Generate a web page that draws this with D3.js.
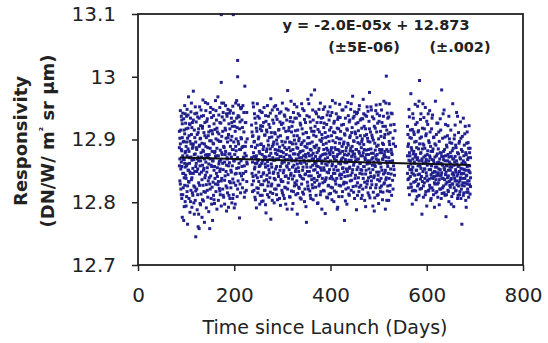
<!DOCTYPE html>
<html>
<head>
<meta charset="utf-8">
<script src="https://cdn.jsdelivr.net/npm/d3@7"></script>
<style>
  html, body { margin: 0; padding: 0; background: #fff; }
  svg { display: block; }
</style>
</head>
<body>
<svg id="chart" width="548" height="343"></svg>
<script>
// Responsivity samples [day since launch, DN/W/m² sr µm], one array per observation period
const passA = [
  [86,12.858],[86,12.913],[87,12.834],[88,12.893],[88,12.946],[89,12.821],
  [90,12.884],[90,12.812],[91,12.931],[91,12.857],[92,12.776],[92,12.903],[93,12.846],[93,12.942],[94,12.868],[94,12.823],
  [95,12.771],[95,12.897],[96,12.915],[96,12.839],[97,12.862],[97,12.954],[98,12.801],[98,12.879],[99,12.926],[99,12.843],
  [100,12.889],[100,12.794],[101,12.858],[101,12.937],[102,12.817],[102,12.874],[103,12.902],[103,12.765],[104,12.851],[104,12.918],
  [105,12.833],[105,12.968],[106,12.881],[106,12.806],[107,12.925],[107,12.862],[108,12.784],[108,12.897],[109,12.846],[109,12.934],
  [110,12.872],[110,12.819],[111,12.908],[111,12.958],[112,12.839],[112,12.792],[113,12.886],[113,12.927],[114,12.854],[114,12.811],
  [115,12.977],[115,12.893],[116,12.826],[116,12.868],[117,12.915],[117,12.781],[118,12.849],[118,12.941],[119,12.877],[119,12.803],
  [120,12.745],[120,12.896],[121,12.862],[121,12.928],[122,12.821],[122,12.884],[123,12.908],[123,12.788],[124,12.853],[124,12.936],
  [125,12.761],[125,12.872],[126,12.831],[126,12.917],[127,12.889],[127,12.758],[128,12.952],[128,12.845],[129,12.798],[129,12.901],
  [130,12.866],[130,12.922],[131,12.813],[131,12.879],[132,12.937],[132,12.848],[133,12.776],[133,12.894],[134,12.859],[134,12.918],
  [135,12.827],[135,12.963],[136,12.881],[136,12.802],[137,12.911],[137,12.854],[138,12.768],[138,12.893],[139,12.839],[139,12.927],
  [140,12.875],[140,12.816],[141,12.946],[141,12.864],[142,12.791],[142,12.903],[143,12.848],[143,12.929],[144,12.872],[144,12.819],
  [145,12.887],[145,12.957],[146,12.834],[146,12.906],[147,12.861],[147,12.785],[148,12.921],[148,12.876],[149,12.829],[149,12.758],
  [150,12.943],[150,12.869],[151,12.914],[151,12.842],[152,12.898],[152,12.806],[153,12.935],[153,12.857],[154,12.824],[154,12.881],
  [155,12.909],[155,12.771],[156,12.866],[156,12.948],[157,12.811],[157,12.893],[158,12.851],[158,12.925],[159,12.879],[159,12.798],
  [160,12.916],[160,12.838],[161,12.962],[161,12.873],[162,12.817],[162,12.901],[163,12.846],[163,12.931],[164,12.789],[164,12.886],
  [165,12.855],[165,12.912],[166,12.828],[166,12.968],[167,12.874],[167,12.803],[168,12.939],[168,12.861],[169,12.897],[169,12.822],
  [170,12.951],[170,12.849],[171,12.883],[171,12.812],[172,12.926],[172,12.867],[173,12.991],[173,13.099],[173,12.794],[174,12.905],
  [174,12.838],[174,12.958],[175,12.876],[176,12.821],[176,12.913],[177,12.852],[177,12.943],[178,12.808],[178,12.889],[179,12.931],
  [180,12.864],[180,12.797],[181,12.918],[181,12.842],[182,12.954],[182,12.881],[183,12.826],[183,12.902],[184,12.859],[184,12.786],
  [185,12.937],[185,12.871],[186,12.815],[186,12.896],[187,12.948],[187,12.844],[188,12.908],[188,12.792],[189,12.877],[189,12.925],
  [190,12.833],[190,12.863],[191,12.917],[191,12.806],[192,12.889],[192,12.946],[193,12.851],[193,12.823],[194,12.934],[194,12.872],
  [195,12.799],[195,12.905],[196,12.858],[196,12.921],[197,12.837],[197,12.953],[198,13.099],[198,12.884],[198,12.812],[199,12.896],
  [199,12.866],[200,12.929],[200,12.791],[201,12.876],[202,12.913],[202,12.845],[203,12.958],[203,12.827],[204,12.882],[204,12.901],
  [205,12.962],[205,12.854],[206,12.919],[206,12.809],[207,13.026],[207,13.000],[207,12.871],[208,12.938],[208,12.834],[209,12.893],
  [209,12.955],[210,12.862],[211,12.775],[211,12.917],[212,12.846],[212,12.928],[213,12.884],[213,12.815],[214,12.949],[214,12.866],
  [215,12.951],[215,12.901],[216,12.857],[216,12.931],[217,12.823],[218,12.889],[218,12.954],[219,12.846],[220,12.912],[220,12.872],
  [221,12.808],[222,12.985],[222,12.878],[223,12.927],[224,12.849],[224,12.896],[225,12.819],[226,12.943],[226,12.864],[227,12.901],
  [86,12.887],[87,12.902],[87,12.869],[88,12.829],[89,12.915],[89,12.853],[90,12.937],[90,12.864],[91,12.806],[91,12.882],
  [92,12.925],[93,12.874],[93,12.812],[94,12.896],[95,12.846],[95,12.933],[96,12.868],[96,12.793],[97,12.909],[97,12.827],
  [98,12.941],[98,12.856],[99,12.881],[100,12.917],[100,12.838],[101,12.896],[101,12.809],[102,12.948],[102,12.861],[103,12.826],
  [104,12.885],[104,12.939],[105,12.851],[106,12.906],[106,12.832],[107,12.871],[108,12.924],[108,12.848],[109,12.801],[110,12.893],
  [110,12.944],[111,12.836],[112,12.867],[112,12.919],[113,12.815],[114,12.889],[115,12.846],[115,12.931],[116,12.799],[117,12.876],
  [118,12.903],[118,12.824],[119,12.952],[120,12.857],[120,12.818],[121,12.887],[122,12.942],[122,12.849],[123,12.869],[124,12.812],
  [125,12.911],[126,12.866],[126,12.781],[127,12.934],[128,12.891],[128,12.827],[129,12.858],[130,12.902],[130,12.796],[131,12.947],
  [132,12.872],[133,12.836],[134,12.921],[134,12.804],[135,12.883],[136,12.851],[136,12.938],[137,12.817],[138,12.869],[139,12.906],
  [140,12.843],[140,12.959],[141,12.889],[142,12.828],[143,12.876],[144,12.933],[144,12.855],[145,12.808],[146,12.871],[147,12.912],
  [148,12.839],[149,12.898],[150,12.821],[150,12.886],[151,12.951],[152,12.859],[153,12.797],[154,12.914],[155,12.866],[156,12.832],
  [156,12.894],[157,12.938],[158,12.804],[159,12.857],[160,12.881],[161,12.829],[162,12.946],[163,12.874],[164,12.918],[165,12.841],
  [166,12.899],[167,12.833],[168,12.909],[169,12.865],[170,12.818],[170,12.927],[171,12.853],[172,12.897],[173,12.834],[174,12.879],
  [175,12.936],[176,12.862],[177,12.811],[178,12.958],[179,12.887],[180,12.835],[181,12.876],[182,12.915],[183,12.849],[184,12.941],
  [185,12.823],[186,12.869],[187,12.903],[188,12.858],[189,12.811],[190,12.942],[191,12.877],[192,12.831],[193,12.899],[194,12.848],
  [195,12.927],[196,12.884],[197,12.806],[198,12.942],[199,12.831],[200,12.866],[201,12.921],[202,12.797],[203,12.889],[204,12.846],
  [205,12.934],[206,12.869],[207,12.821],[208,12.897],[209,12.855],[210,12.936],[211,12.884],[212,12.829],[213,12.951],[214,12.903],
  [215,12.842],[216,12.887],[217,12.919],[218,12.836],[219,12.871],[220,12.943],[221,12.858],[222,12.816],[223,12.889],[224,12.927],
  [225,12.874],[226,12.833],[227,12.861]
];

const passB = [
  [236,12.871],[236,12.923],[237,12.846],[238,12.905],[238,12.817],[239,12.958],[240,12.879],[240,12.834],[241,12.896],[242,12.853],
  [242,12.941],[243,12.808],[244,12.887],[244,12.862],[245,12.926],[246,12.791],[246,12.874],[247,12.913],[248,12.839],[248,12.957],
  [249,12.866],[250,12.822],[250,12.901],[251,12.848],[252,12.934],[252,12.881],[253,12.797],[254,12.859],[254,12.917],[255,12.828],
  [256,12.893],[256,12.944],[257,12.862],[258,12.811],[258,12.876],[259,12.921],[260,12.845],[260,12.802],[261,12.889],[262,12.951],
  [262,12.834],[263,12.868],[264,12.907],[264,12.819],[265,12.856],[266,12.929],[266,12.783],[267,12.881],[268,12.843],[268,12.912],
  [269,12.865],[270,12.826],[270,12.898],[271,12.937],[272,12.852],[272,12.808],[273,12.874],[274,12.919],[274,12.839],[275,12.885],
  [276,12.965],[276,12.773],[277,12.861],[278,12.904],[278,12.829],[279,12.947],[280,12.871],[280,12.814],[281,12.892],[282,12.848],
  [282,12.926],[283,12.799],[284,12.867],[284,12.911],[285,12.836],[286,12.954],[286,12.878],[287,12.821],[288,12.899],[288,12.857],
  [289,12.932],[290,12.804],[290,12.883],[291,12.846],[292,12.915],[292,12.869],[293,12.827],[294,12.942],[294,12.888],[295,12.851],
  [296,12.795],[296,12.906],[297,12.873],[298,12.833],[298,12.924],[299,12.862],[300,12.958],[300,12.815],[301,12.891],[302,12.847],
  [302,12.879],[303,12.918],[304,12.806],[304,12.864],[305,12.937],[306,12.841],[306,12.896],[307,12.823],[308,12.876],[308,12.949],
  [309,12.858],[310,12.902],[310,12.789],[311,12.978],[312,12.868],[312,12.831],[313,12.914],[314,12.852],[314,12.887],[315,12.809],
  [316,12.929],[316,12.872],[317,12.843],[318,12.961],[318,12.895],[319,12.818],[320,12.866],[320,12.921],[321,12.837],[322,12.884],
  [322,12.798],[323,12.943],[324,12.859],[324,12.906],[325,12.826],[326,12.877],[326,12.934],[327,12.849],[328,12.812],[328,12.893],
  [329,12.869],[330,12.952],[330,12.834],[331,12.781],[332,12.886],[332,12.915],[333,12.855],[334,12.824],[334,12.898],[335,12.871],
  [336,12.938],[336,12.843],[337,12.807],[338,12.881],[338,12.923],[339,12.862],[340,12.829],[340,12.957],[341,12.895],[342,12.851],
  [342,12.816],[343,12.909],[344,12.874],[344,12.837],[345,12.946],[346,12.864],[346,12.801],[347,12.889],[348,12.927],[348,12.845],
  [349,12.872],[350,12.768],[350,12.911],[351,12.856],[352,12.832],[352,12.893],[353,12.964],[354,12.878],[354,12.821],[355,12.903],
  [356,12.849],[356,12.936],[357,12.866],[358,12.811],[358,12.884],[359,12.918],[360,12.842],[360,12.971],[361,12.875],[362,12.828],
  [362,12.896],[363,12.859],[364,12.931],[364,12.804],[365,12.869],[366,12.913],[366,12.838],[367,12.979],[368,12.887],[368,12.852],
  [369,12.824],[370,12.905],[370,12.863],[371,12.941],[372,12.835],[372,12.879],[373,12.798],[374,12.916],[374,12.857],[375,12.882],
  [376,12.948],[376,12.826],[377,12.868],[378,12.899],[378,12.843],[379,12.812],[380,12.927],[380,12.874],[381,12.851],[382,12.908],
  [382,12.789],[383,12.866],[384,12.935],[384,12.831],[385,12.892],[386,12.855],[386,12.919],[387,12.818],[388,12.877],[388,12.952],
  [389,12.782],[390,12.861],[390,12.903],[391,12.839],[392,12.886],[392,12.924],[393,12.848],[394,12.807],[394,12.871],[395,12.944],
  [396,12.864],[396,12.827],[397,12.897],[398,12.852],[398,12.915],[399,12.876],[400,12.814],[400,12.938],[401,12.883],[402,12.841],
  [402,12.906],[403,12.858],[404,12.962],[404,12.823],[405,12.879],[406,12.912],[406,12.846],[407,12.801],[408,12.869],[408,12.929],
  [409,12.887],[410,12.834],[410,12.895],[411,12.857],[412,12.941],[412,12.816],[413,12.873],[414,12.918],[414,12.851],[415,12.792],
  [416,12.884],[416,12.936],[417,12.862],[418,12.827],[418,12.901],[419,12.956],[420,12.845],[420,12.878],[421,12.913],[422,12.838],
  [422,12.866],[423,12.923],[424,12.809],[424,12.889],[425,12.854],[426,12.947],[426,12.871],[427,12.829],[428,12.896],[428,12.848],
  [429,12.771],[430,12.907],[430,12.863],[431,12.934],[432,12.821],[432,12.882],[433,12.853],[434,12.917],[434,12.797],[435,12.875],
  [436,12.959],[436,12.842],[437,12.891],[438,12.867],[438,12.813],[439,12.928],[440,12.856],[440,12.903],[441,12.834],[442,12.886],
  [442,12.948],[443,12.819],[444,12.873],[444,12.911],[445,12.847],[446,12.969],[446,12.881],[447,12.825],[448,12.898],[448,12.859],
  [449,12.937],[450,12.806],[450,12.877],[451,12.912],[452,12.843],[452,12.866],[453,12.925],[454,12.788],[454,12.884],[455,12.852],
  [456,12.943],[456,12.831],[457,12.895],[458,12.869],[458,12.914],[459,12.817],[460,12.878],[460,12.954],[461,12.846],[462,12.906],
  [462,12.862],[463,12.827],[464,12.933],[464,12.887],[465,12.851],[466,12.811],[466,12.901],[467,12.874],[468,12.964],[468,12.838],
  [469,12.892],[470,12.857],[470,12.921],[471,12.803],[472,12.871],[472,12.939],[473,12.845],[474,12.883],[474,12.824],[475,12.908],
  [476,12.861],[476,12.952],[477,12.834],[478,12.897],[478,12.815],[479,12.876],[480,12.929],[480,12.853],[481,12.975],[482,12.866],
  [482,12.807],[483,12.912],[484,12.841],[484,12.885],[485,12.947],[486,12.828],[486,12.869],[487,12.903],[488,12.852],[488,12.794],
  [489,12.878],[490,12.933],[490,12.839],[491,12.786],[492,12.894],[492,12.859],[493,12.918],[494,12.823],[494,12.874],[495,12.955],
  [496,12.848],[496,12.889],[497,12.811],[498,12.867],[498,12.926],[499,12.843],[500,12.901],[500,12.798],[501,12.862],[502,12.938],
  [502,12.834],[503,12.879],[504,12.817],[504,12.913],[505,12.856],[506,12.947],[506,12.826],[507,12.884],[508,12.804],[508,12.869],
  [509,12.921],[510,12.845],[510,12.892],[511,12.961],[512,12.831],[512,12.876],[513,12.908],[514,12.851],[514,12.789],[515,12.872],
  [516,13.001],[516,12.839],[517,12.915],[518,12.862],[518,12.818],[519,12.934],[520,12.881],[520,12.846],[521,12.803],[522,12.897],
  [522,12.957],[523,12.865],[524,12.827],[524,12.911],[525,12.853],[526,12.884],[526,12.942],[527,12.811],[528,12.876],[529,12.835],
  [530,12.902],[531,12.858],[532,12.924],[533,12.843],[535,12.889],
  [236,12.889],[237,12.912],[237,12.828],[238,12.864],[239,12.841],[239,12.906],[240,12.952],[241,12.819],[241,12.873],[242,12.897],
  [243,12.856],[243,12.934],[244,12.804],[245,12.871],[245,12.843],[246,12.918],[247,12.862],[247,12.823],[248,12.891],[249,12.937],
  [249,12.815],[250,12.868],[251,12.904],[251,12.833],[252,12.857],[253,12.946],[253,12.878],[254,12.811],[255,12.892],[255,12.922],
  [256,12.841],[257,12.801],[257,12.914],[258,12.943],[259,12.866],[259,12.828],[260,12.884],[261,12.927],[261,12.847],[262,12.873],
  [263,12.819],[263,12.907],[264,12.861],[265,12.938],[265,12.796],[266,12.872],[267,12.836],[267,12.915],[268,12.885],[269,12.954],
  [269,12.812],[270,12.858],[271,12.891],[271,12.832],[272,12.924],[273,12.847],[273,12.903],[274,12.868],[275,12.816],[275,12.942],
  [276,12.878],[277,12.826],[277,12.911],[278,12.856],[279,12.889],[279,12.803],[280,12.931],[281,12.846],[281,12.867],[282,12.896],
  [283,12.838],[283,12.952],[284,12.821],[285,12.884],[285,12.909],[286,12.853],[287,12.937],[287,12.869],[288,12.812],[289,12.876],
  [289,12.893],[290,12.948],[291,12.827],[291,12.904],[292,12.841],[293,12.882],[293,12.916],[294,12.806],[295,12.873],[295,12.928],
  [296,12.857],[297,12.836],[297,12.944],[298,12.881],[299,12.819],[299,12.897],[300,12.864],[301,12.833],[301,12.926],[302,12.811],
  [303,12.872],[303,12.851],[304,12.939],[305,12.887],[305,12.824],[306,12.868],[307,12.913],[307,12.797],[308,12.842],[309,12.931],
  [309,12.884],[310,12.856],[311,12.821],[311,12.903],[312,12.947],[313,12.862],[313,12.838],[314,12.919],[315,12.874],[315,12.896],
  [316,12.808],[317,12.882],[317,12.935],[318,12.846],[319,12.869],[319,12.912],[320,12.789],[321,12.893],[321,12.856],[322,12.928],
  [323,12.817],[323,12.877],[324,12.842],[325,12.956],[325,12.899],[326,12.831],[327,12.866],[327,12.914],[328,12.853],[329,12.828],
  [329,12.934],[330,12.887],[331,12.861],[331,12.906],[332,12.814],[333,12.876],[333,12.941],[334,12.849],[335,12.902],[335,12.822],
  [336,12.879],[337,12.863],[337,12.926],[338,12.841],[339,12.892],[339,12.805],[340,12.871],[341,12.917],[341,12.838],[342,12.949],
  [343,12.856],[343,12.882],[344,12.813],[345,12.898],[345,12.867],[346,12.932],[347,12.844],[347,12.821],[348,12.876],[349,12.911],
  [349,12.793],[350,12.861],[351,12.938],[351,12.887],[352,12.849],[353,12.826],[353,12.903],[354,12.866],[355,12.842],[355,12.957],
  [356,12.874],[357,12.818],[357,12.894],[358,12.928],[359,12.856],[359,12.806],[360,12.883],[361,12.913],[361,12.836],[362,12.869],
  [363,12.947],[363,12.823],[364,12.878],[365,12.851],[365,12.907],[366,12.889],[367,12.832],[367,12.862],[368,12.921],[369,12.873],
  [369,12.944],[370,12.811],[371,12.858],[371,12.891],[372,12.927],[373,12.847],[373,12.868],[374,12.799],[375,12.936],[375,12.841],
  [376,12.886],[377,12.829],[377,12.912],[378,12.871],[379,12.855],[379,12.958],[380,12.817],[381,12.897],[381,12.934],[382,12.862],
  [383,12.838],[383,12.902],[384,12.876],[385,12.819],[385,12.948],[386,12.884],[387,12.851],[387,12.926],[388,12.833],[389,12.869],
  [389,12.911],[390,12.836],[391,12.894],[391,12.877],[392,12.808],[393,12.939],[393,12.859],[394,12.883],[395,12.826],[395,12.905],
  [396,12.847],[397,12.931],[397,12.813],[398,12.879],[399,12.952],[399,12.838],[400,12.866],[401,12.919],[401,12.824],[402,12.887],
  [403,12.804],[403,12.943],[404,12.861],[405,12.837],[405,12.898],[406,12.873],[407,12.926],[407,12.852],[408,12.818],[409,12.911],
  [409,12.846],[410,12.958],[411,12.829],[411,12.884],[412,12.867],[413,12.903],[413,12.838],[414,12.789],[415,12.876],[415,12.932],
  [416,12.851],[417,12.917],[417,12.809],[418,12.882],[419,12.843],[419,12.894],[420,12.935],[421,12.861],[421,12.826],[422,12.901],
  [423,12.869],[423,12.844],[424,12.947],[425,12.881],[425,12.817],[426,12.855],[427,12.924],[427,12.893],[428,12.832],[429,12.876],
  [429,12.909],[430,12.841],[431,12.868],[431,12.802],[432,12.952],[433,12.887],[433,12.831],[434,12.863],[435,12.915],[435,12.849],
  [436,12.894],[437,12.823],[437,12.938],[438,12.877],[439,12.854],[439,12.811],[440,12.931],[441,12.882],[441,12.906],[442,12.843],
  [443,12.867],[443,12.957],[444,12.835],[445,12.889],[445,12.919],[446,12.852],[447,12.876],[447,12.934],[448,12.816],[449,12.863],
  [449,12.897],[450,12.944],[451,12.838],[451,12.872],[452,12.909],[453,12.826],[453,12.884],[454,12.941],[455,12.868],[455,12.903],
  [456,12.811],[457,12.856],[457,12.927],[458,12.839],[459,12.881],[459,12.948],[460,12.824],[461,12.893],[461,12.862],[462,12.931],
  [463,12.874],[463,12.852],[464,12.806],[465,12.897],[465,12.918],[466,12.845],[467,12.933],[467,12.821],[468,12.879],[469,12.857],
  [469,12.941],[470,12.884],[471,12.832],[471,12.906],[472,12.868],[473,12.917],[473,12.793],[474,12.851],[475,12.876],[475,12.937],
  [476,12.829],[477,12.902],[477,12.866],[478,12.945],[479,12.839],[479,12.884],[480,12.811],[481,12.862],[481,12.917],[482,12.896],
  [483,12.847],[483,12.823],[484,12.952],[485,12.878],[485,12.834],[486,12.907],[487,12.859],[487,12.936],[488,12.871],[489,12.816],
  [489,12.899],[490,12.864],[491,12.921],[491,12.842],[492,12.807],[493,12.883],[493,12.857],[494,12.946],[495,12.869],[495,12.828],
  [496,12.912],[497,12.876],[497,12.941],[498,12.836],[499,12.891],[499,12.812],[500,12.867],[501,12.929],[501,12.848],[502,12.884],
  [503,12.823],[503,12.956],[504,12.862],[505,12.905],[505,12.838],[506,12.879],[507,12.851],[507,12.927],[508,12.894],[509,12.816],
  [509,12.868],[510,12.937],[511,12.873],[511,12.829],[512,12.903],[513,12.847],[513,12.881],[514,12.921],[515,12.836],[515,12.958],
  [516,12.865],[517,12.803],[517,12.884],[518,12.942],[519,12.857],[519,12.826],[520,12.909],[521,12.871],[521,12.936],[522,12.838],
  [523,12.892],[523,12.817],[524,12.864],[525,12.923],[526,12.845],[527,12.879],[528,12.941],[529,12.866],[530,12.821],[531,12.893],
  [532,12.852],[534,12.914]
];

const passC = [
  [560,12.874],[560,12.921],[561,12.836],[562,12.893],[562,12.857],[563,12.948],[564,12.812],[564,12.879],[565,12.903],[566,12.841],
  [566,12.866],[567,12.973],[568,12.824],[568,12.887],[569,12.852],[570,12.916],[570,12.797],[571,12.869],[572,12.934],[572,12.845],
  [573,12.881],[574,12.819],[574,12.908],[575,12.862],[576,12.956],[576,12.833],[577,12.876],[578,12.804],[578,12.897],[579,12.851],
  [580,12.927],[580,12.868],[581,12.826],[582,12.912],[582,12.844],[583,12.885],[584,12.961],[584,12.811],[585,12.994],[586,12.858],
  [586,12.902],[587,12.837],[588,12.879],[588,12.941],[589,12.822],[590,12.781],[590,12.866],[591,12.918],[592,12.849],[592,12.893],
  [593,12.808],[594,12.872],[594,12.935],[595,12.831],[596,12.886],[596,12.853],[597,12.951],[598,12.817],[598,12.864],[599,12.909],
  [600,12.842],[600,12.794],[601,12.876],[602,12.924],[602,12.835],[603,12.861],[604,12.898],[604,12.819],[605,12.852],[606,12.946],
  [606,12.827],[607,12.871],[608,12.803],[608,12.889],[609,12.844],[610,12.917],[610,12.858],[611,12.823],[612,12.881],[612,12.939],
  [613,12.838],[614,12.867],[614,12.812],[615,12.904],[616,12.849],[616,12.831],[617,12.893],[618,12.856],[618,12.961],[619,12.815],
  [620,12.874],[620,12.842],[621,12.926],[622,12.829],[622,12.863],[623,12.808],[624,12.885],[624,12.847],[625,12.912],[626,12.836],
  [626,12.796],[627,12.869],[628,12.933],[628,12.852],[629,12.821],[630,12.878],[630,12.843],[631,12.979],[632,12.861],[632,12.814],
  [633,12.902],[634,12.838],[634,12.873],[635,12.826],[636,12.947],[636,12.855],[637,12.884],[638,12.811],[638,12.866],[639,12.924],
  [640,12.777],[640,12.848],[641,12.891],[642,12.832],[642,12.859],[643,12.906],[644,12.819],[644,12.876],[645,12.842],[646,12.937],
  [646,12.801],[647,12.864],[648,12.827],[648,12.895],[649,12.851],[650,12.915],[650,12.836],[651,12.873],[652,12.809],[652,12.856],
  [653,12.882],[654,12.829],[654,12.957],[655,12.847],[656,12.869],[656,12.793],[657,12.901],[658,12.838],[658,12.864],[659,12.923],
  [660,12.818],[660,12.852],[661,12.887],[662,12.834],[662,12.943],[663,12.861],[664,12.806],[664,12.879],[665,12.845],[666,12.911],
  [666,12.826],[667,12.858],[668,12.897],[668,12.812],[669,12.871],[670,12.839],[670,12.928],[671,12.854],[672,12.821],[672,12.884],
  [673,12.765],[674,12.846],[674,12.905],[675,12.831],[676,12.866],[676,12.934],[677,12.815],[678,12.852],[678,12.891],[679,12.838],
  [680,12.921],[680,12.861],[681,12.803],[682,12.792],[682,12.876],[683,12.843],[684,12.912],[684,12.829],[685,12.868],[686,12.816],
  [686,12.895],[687,12.851],[688,12.922],[688,12.834],[689,12.879],[690,12.847],[690,12.886],[691,12.825],
  [560,12.846],[561,12.889],[561,12.908],[562,12.823],[563,12.867],[563,12.838],[564,12.936],[565,12.852],[565,12.874],[566,12.915],
  [567,12.829],[567,12.861],[568,12.902],[569,12.847],[569,12.883],[570,12.818],[571,12.941],[571,12.856],[572,12.877],[573,12.832],
  [573,12.912],[574,12.864],[575,12.843],[575,12.896],[576,12.872],[577,12.818],[577,12.924],[578,12.851],[579,12.887],[579,12.836],
  [580,12.809],[581,12.871],[581,12.953],[582,12.858],[583,12.829],[583,12.914],[584,12.866],[585,12.845],[585,12.893],[586,12.821],
  [587,12.878],[587,12.932],[588,12.854],[589,12.904],[589,12.841],[590,12.869],[591,12.833],[591,12.885],[592,12.957],[593,12.862],
  [593,12.826],[594,12.891],[595,12.853],[595,12.917],[596,12.838],[597,12.874],[597,12.812],[598,12.906],[599,12.847],[599,12.868],
  [600,12.929],[601,12.834],[601,12.859],[602,12.882],[603,12.818],[603,12.941],[604,12.866],[605,12.837],[605,12.895],[606,12.874],
  [607,12.823],[607,12.912],[608,12.852],[609,12.881],[609,12.806],[610,12.839],[611,12.868],[611,12.934],[612,12.847],[613,12.819],
  [613,12.885],[614,12.903],[615,12.841],[615,12.863],[616,12.792],[617,12.872],[617,12.829],[618,12.848],[619,12.891],[619,12.836],
  [620,12.908],[621,12.856],[621,12.817],[622,12.877],[623,12.844],[623,12.926],[624,12.831],[625,12.864],[625,12.853],[626,12.897],
  [627,12.821],[627,12.842],[628,12.879],[629,12.862],[629,12.915],[630,12.806],[631,12.847],[631,12.873],[632,12.838],[633,12.859],
  [633,12.823],[634,12.941],[635,12.868],[635,12.881],[636,12.815],[637,12.836],[637,12.852],[638,12.904],[639,12.844],[639,12.874],
  [640,12.829],[641,12.858],[641,12.812],[642,12.888],[643,12.839],[643,12.866],[644,12.922],[645,12.817],[645,12.851],[646,12.872],
  [647,12.833],[647,12.901],[648,12.856],[649,12.824],[649,12.879],[650,12.861],[651,12.797],[651,12.838],[652,12.894],[653,12.845],
  [653,12.829],[654,12.869],[655,12.814],[655,12.886],[656,12.843],[657,12.859],[657,12.823],[658,12.907],[659,12.834],[659,12.873],
  [660,12.891],[661,12.819],[661,12.848],[662,12.866],[663,12.828],[663,12.842],[664,12.937],[665,12.857],[665,12.811],[666,12.877],
  [667,12.832],[667,12.894],[668,12.849],[669,12.817],[669,12.835],[670,12.869],[671,12.806],[671,12.902],[672,12.845],[673,12.827],
  [673,12.862],[674,12.881],[675,12.838],[675,12.853],[676,12.811],[677,12.874],[677,12.846],[678,12.826],[679,12.863],[679,12.909],
  [680,12.831],[681,12.851],[681,12.879],[682,12.842],[683,12.816],[683,12.894],[684,12.857],[685,12.834],[685,12.821],[686,12.871],
  [687,12.808],[687,12.886],[688,12.849],[689,12.828],[689,12.858],[690,12.813],[691,12.871],[691,12.839]
];

// Linear fit through all samples
const fitSlope = -2.0e-5;
const fitIntercept = 12.873;
const fitDays = [87, 690];
const fitEquation = "y = -2.0E-05x + 12.873";
const fitSlopeErr = "(±5E-06)";
const fitInterceptErr = "(±.002)";

// Axis ticks
const xTicks = [0, 200, 400, 600, 800];
const xTickLabels = ["0", "200", "400", "600", "800"];
const yTicks = [12.7, 12.8, 12.9, 13.0, 13.1];
const yTickLabels = ["12.7", "12.8", "12.9", "13", "13.1"];

const svg = d3.select("#chart");
const plot = { left: 138, right: 523, top: 14, bottom: 265 };

const x = d3.scaleLinear().domain([0, 800]).range([plot.left, plot.right]);
const y = d3.scaleLinear().domain([12.7, 13.1]).range([plot.bottom, plot.top]);

const tickFont = "'DejaVu Sans', Verdana, sans-serif";

// Scatter points
const samples = passA.concat(passB, passC);
svg.append("g")
  .attr("fill", "#20208e")
  .selectAll("rect")
  .data(samples)
  .join("rect")
  .attr("x", d => x(d[0]) - 1.5)
  .attr("y", d => y(d[1]) - 1.5)
  .attr("width", 3)
  .attr("height", 3);

// Fit line
svg.append("line")
  .attr("x1", x(fitDays[0]))
  .attr("y1", y(fitIntercept + fitSlope * fitDays[0]))
  .attr("x2", x(fitDays[1]))
  .attr("y2", y(fitIntercept + fitSlope * fitDays[1]))
  .attr("stroke", "#111")
  .attr("stroke-width", 2);

// Axes
const xAxis = svg.append("g")
  .attr("transform", `translate(0,${plot.bottom})`)
  .call(d3.axisBottom(x).tickValues(xTicks).tickSize(6).tickPadding(17)
    .tickFormat((d, i) => xTickLabels[i]));
const yAxis = svg.append("g")
  .attr("transform", `translate(${plot.left},0)`)
  .call(d3.axisLeft(y).tickValues(yTicks).tickSize(6).tickPadding(16)
    .tickFormat((d, i) => yTickLabels[i]));

[xAxis, yAxis].forEach(g => {
  g.select(".domain").remove();
  g.selectAll(".tick line").attr("stroke", "#222").attr("stroke-width", 1.5);
  g.selectAll(".tick text")
    .attr("fill", "#222")
    .style("font-family", tickFont)
    .style("font-size", "20px");
});

// Frame
svg.append("rect")
  .attr("x", plot.left)
  .attr("y", plot.top)
  .attr("width", plot.right - plot.left)
  .attr("height", plot.bottom - plot.top)
  .attr("fill", "none")
  .attr("stroke", "#222")
  .attr("stroke-width", 1.8);

// Axis titles
svg.append("text")
  .attr("x", 325)
  .attr("y", 334)
  .attr("text-anchor", "middle")
  .attr("fill", "#222")
  .style("font-family", tickFont)
  .style("font-size", "19px")
  .text("Time since Launch (Days)");

const yTitle = svg.append("g")
  .attr("fill", "#222")
  .style("font-family", tickFont)
  .style("font-weight", "bold")
  .style("font-size", "18px");
yTitle.append("text")
  .attr("transform", "translate(27,141) rotate(-90)")
  .attr("text-anchor", "middle")
  .text("Responsivity");
const unitText = yTitle.append("text")
  .attr("transform", "translate(54,141) rotate(-90)")
  .attr("text-anchor", "middle");
unitText.append("tspan").text("(DN/W/ m");
unitText.append("tspan").attr("font-size", "10px").attr("dy", "-7").text("²");
unitText.append("tspan").attr("dy", "7").text(" sr µm)");

// Fit equation
const eq = svg.append("g")
  .attr("fill", "#222")
  .style("font-family", tickFont)
  .style("font-weight", "bold")
  .style("font-size", "14.5px");
eq.append("text").attr("x", 376).attr("y", 30).attr("text-anchor", "middle").text(fitEquation);
eq.append("text").attr("x", 364).attr("y", 52).attr("text-anchor", "middle").text(fitSlopeErr);
eq.append("text").attr("x", 460).attr("y", 52).attr("text-anchor", "middle").text(fitInterceptErr);
</script>
</body>
</html>
